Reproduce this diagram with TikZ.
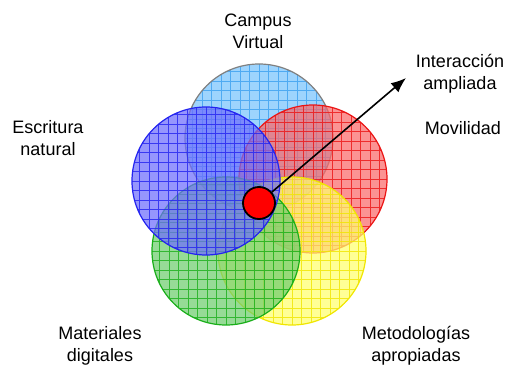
\documentclass[tikz,border=0pt]{standalone}
\usepackage{fontspec}
\setmainfont{Liberation Sans}
\usetikzlibrary{arrows.meta}

\definecolor{celesteF}{RGB}{120,195,252}
\definecolor{celesteL}{RGB}{60,160,240}
\definecolor{azulF}{RGB}{110,110,252}
\definecolor{azulL}{RGB}{35,35,240}
\definecolor{rojoF}{RGB}{250,105,105}
\definecolor{rojoL}{RGB}{235,20,20}
\definecolor{amarF}{RGB}{255,255,110}
\definecolor{amarL}{RGB}{240,230,0}
\definecolor{verdeF}{RGB}{110,205,110}
\definecolor{verdeL}{RGB}{25,175,25}

\tikzset{
  rueda/.style n args={3}{circle, minimum size=148pt, inner sep=0pt,
    fill=#1, fill opacity=0.72, draw=#3, line width=1.2pt,
    path picture={\draw[#2, line width=0.8pt, draw opacity=0.8, step=9.5pt]
      (path picture bounding box.south west) grid (path picture bounding box.north east);}},
  etiqueta/.style={align=center, font=\fontsize{18}{22}\selectfont, text=black}
}

\begin{document}
\begin{tikzpicture}[x=1pt, y=-1pt]

\useasboundingbox (0,0) rectangle (514,366);

\node[rueda={celesteF}{celesteL}{gray}] (campus) at (259,138) {};
\node[rueda={rojoF}{rojoL}{rojoL}] (movil) at (313,179) {};
\node[rueda={amarF}{amarL}{amarL}] (metodo) at (292,251) {};
\node[rueda={verdeF}{verdeL}{verdeL}] (material) at (226,251) {};
\node[rueda={azulF}{azulL}{azulL}] (escritura) at (206,181) {};

\node[circle, minimum size=32pt, inner sep=0pt, fill=red, draw=black, line width=1.8pt] (centro) at (259,203) {};
\coordinate (punta) at (406,78);

\draw [line width=1.6pt, -{Latex[length=15pt, width=12pt]}] (centro) -- (punta);

\node[etiqueta] (t1) at (258,31) {Campus\\Virtual};
\node[etiqueta] (t2) at (48,138) {Escritura\\natural};
\node[etiqueta] (t3) at (460,74) {Interacción\\ampliada};
\node[etiqueta] (t4) at (463,128) {Movilidad};
\node[etiqueta] (t5) at (100,346) {Materiales\\digitales};
\node[etiqueta] (t6) at (416,346) {Metodologías\\apropiadas};

\end{tikzpicture}
\end{document}
